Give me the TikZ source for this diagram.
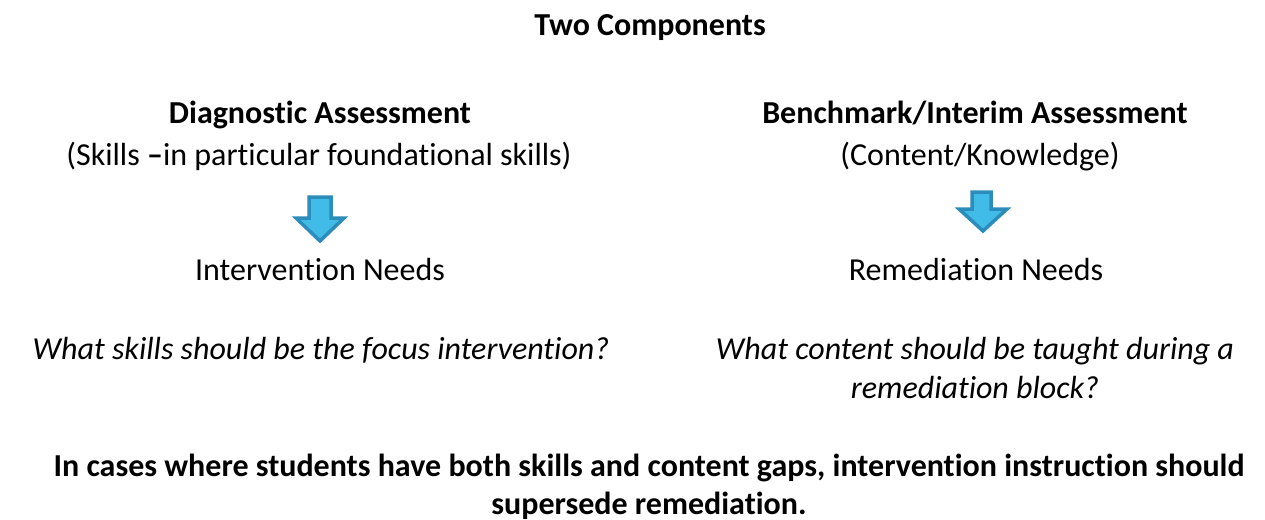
\documentclass[tikz,border=0pt]{standalone}
\usepackage{fontspec}
\setmainfont{Carlito}[RawFeature=-liga]
\definecolor{arrowfill}{HTML}{41BBE8}
\definecolor{arrowline}{HTML}{2C8CBA}
\tikzset{
  txt/.style={inner sep=0pt, anchor=base, font=\fontsize{32}{39}\selectfont},
  head/.style={txt, font=\fontsize{32}{39}\selectfont\bfseries},
  question/.style={txt, font=\fontsize{32}{39}\selectfont\itshape}
}
\tikzset{blockarrow/.style={fill=arrowfill, draw=arrowline, line width=3.5pt, line join=miter}}
\begin{document}
\begin{tikzpicture}[x=1pt, y=-1pt]
  \useasboundingbox (0,0) rectangle (1265,519);
  % title
  \node[head] (title) at (650,36) {Two Components};
  % left column
  \node[head] (diag) at (320,123) {Diagnostic Assessment};
  \node[txt] (skills) at (319,165) {(Skills \textbf{–}in particular foundational skills)};
  \draw[blockarrow] (309,197) -- (331,197) -- (331,218) -- (344,218) -- (320,241)
    -- (296,218) -- (309,218) -- cycle;
  \node[txt] (interv) at (320,280) {Intervention Needs};
  \node[question] (qskills) at (321,359) {What skills should be the focus intervention?};
  % right column
  \node[head] (bench) at (975,123) {Benchmark/Interim Assessment};
  \node[txt] (content) at (980,165) {(Content/Knowledge)};
  \draw[blockarrow] (972,192) -- (991,192) -- (991,209) -- (1007,209) -- (983,231)
    -- (959,209) -- (972,209) -- cycle;
  \node[txt] (remed) at (976,280) {Remediation Needs};
  \node[question] (qcontent1) at (975,359) {What content should be taught during a};
  \node[question] (qcontent2) at (975,398) {remediation block?};
  % bottom note
  \node[head] (note1) at (649,476) {In cases where students have both skills and content gaps, intervention instruction should};
  \node[head] (note2) at (649,514) {supersede remediation.};
\end{tikzpicture}
\end{document}
